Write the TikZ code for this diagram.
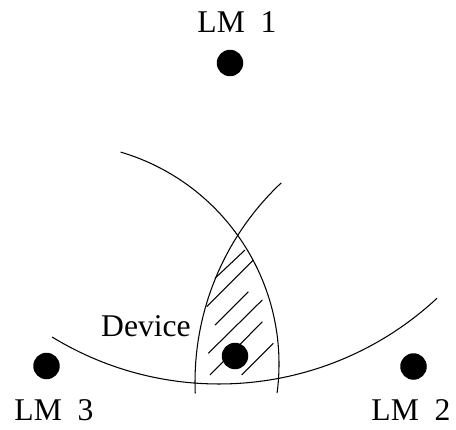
\documentclass[tikz,border=0pt]{standalone}
\usepackage{fontspec}
\setmainfont{Liberation Serif}
\usetikzlibrary{positioning}

\tikzset{
  lmdot/.style={circle, fill=black, inner sep=0pt, minimum size=0.53cm},
  lmlabel/.style={anchor=base, inner sep=0pt, font=\fontsize{18}{21}\selectfont},
  rangearc/.style={line width=0.6pt},
  hatchline/.style={line width=0.6pt}
}

\begin{document}
\begin{tikzpicture}[x=0.02cm, y=-0.02cm]
    \useasboundingbox (0,0) rectangle (456,429);

    % Range arcs
    \draw[rangearc] (58,364) ++(-73.55:221) arc[start angle=-73.55, end angle=7.58, radius=221];
    \draw[rangearc] (468,382) ++(226.85:273) arc[start angle=226.85, end angle=177.6, radius=273];
    \draw[rangearc] (219,64) ++(121.45:320) arc[start angle=121.45, end angle=47.03, radius=320];

    % Hatched intersection
    \foreach \xa/\ya/\xb/\yb in {215/278.3/245/250, 206.7/306.7/253.3/260,
                                 215/325/248.3/291.7, 208.3/353.3/262.3/300,
                                 210/375/262.3/321.7, 241.7/375/273.3/343.3}
        \draw[hatchline] (\xa,\ya) -- (\xb,\yb);

    % Landmarks and device
    \node[lmdot] (lm1) at (230,63) {};
    \node[lmdot] (lm2) at (413.5,366.5) {};
    \node[lmdot] (lm3) at (46.5,366) {};
    \node[lmdot] (dev) at (235,356) {};

    \node[lmlabel] (lm1 label) at (237,33) {LM\ \ 1};
    \node[lmlabel] (lm2 label) at (411,420) {LM\ \ 2};
    \node[lmlabel] (lm3 label) at (54,420) {LM\ \ 3};
    \node[lmlabel] (dev label) at (146,336) {Device};
\end{tikzpicture}
\end{document}
